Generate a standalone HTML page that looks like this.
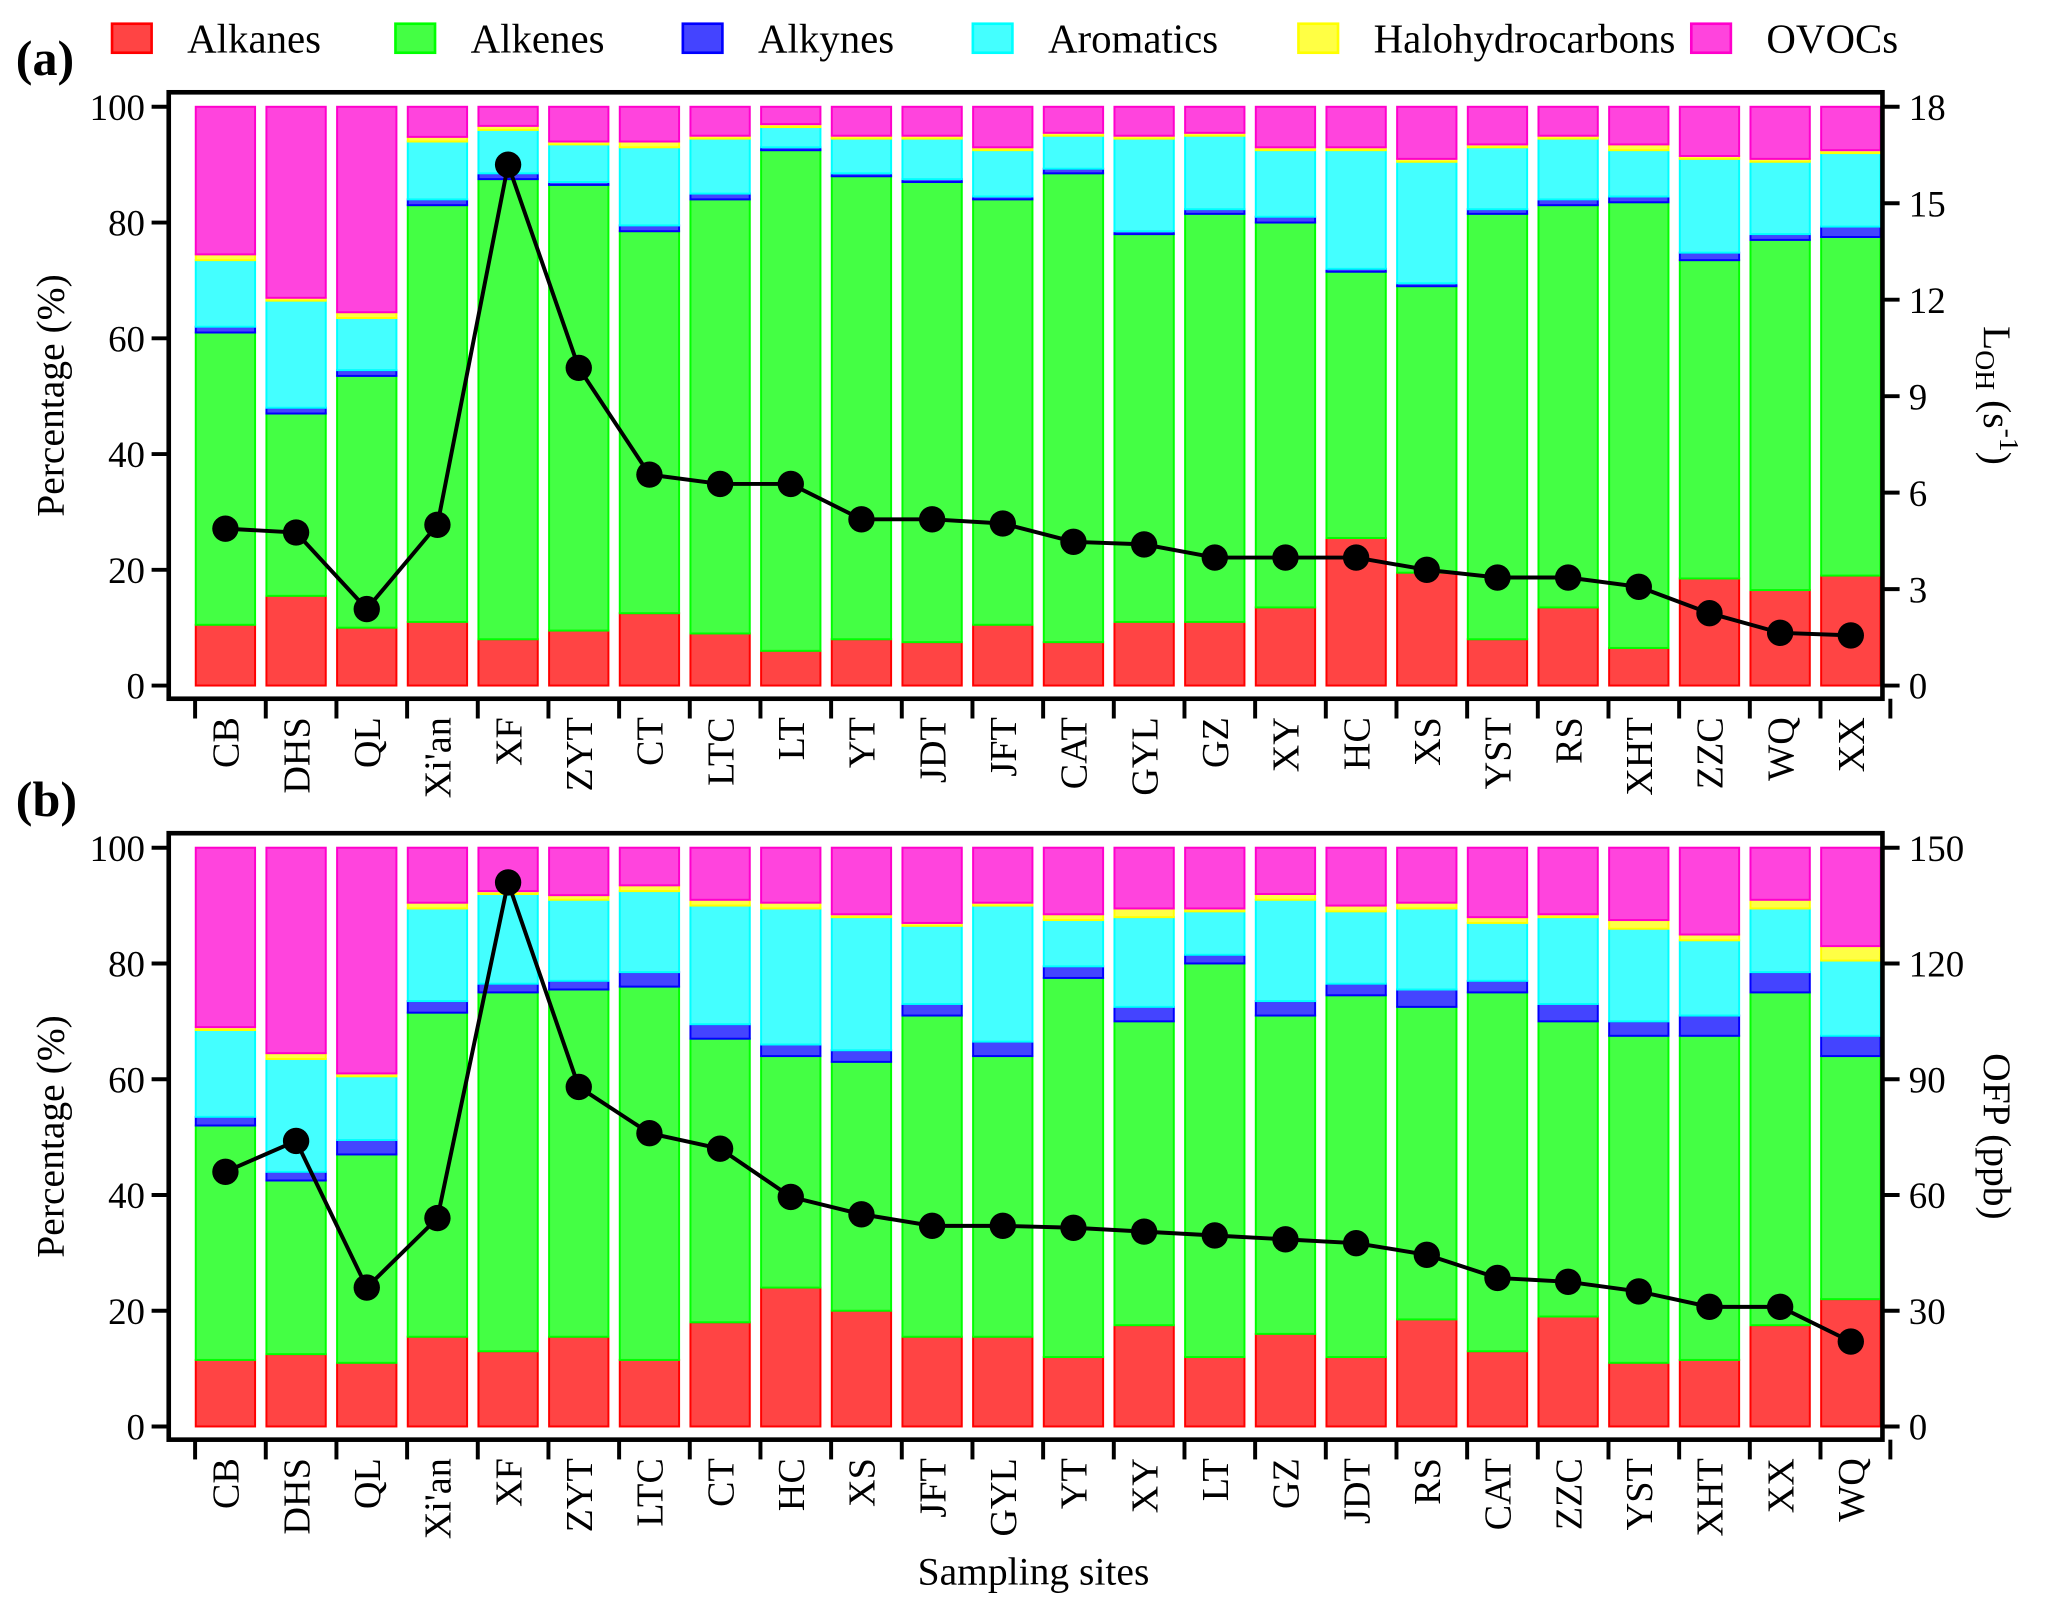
<!DOCTYPE html>
<html><head><meta charset="utf-8"><style>html,body{margin:0;padding:0;background:#fff}svg{display:block}svg text{font-family:"Liberation Serif","DejaVu Serif",serif}</style></head>
<body>
<svg id="chart" xmlns="http://www.w3.org/2000/svg" width="2067" height="1615" viewBox="0 0 1568 1225" preserveAspectRatio="none" style="font-family:'Liberation Serif',serif">
<g id="legend"></g>
<g id="pa"></g>
<g id="pb"></g>
<text x="784" y="1202" font-size="30" text-anchor="middle">Sampling sites</text>
</svg>
<script>
const categoriesA = ["CB","DHS","QL","Xi'an","XF","ZYT","CT","LTC","LT","YT","JDT","JFT","CAT","GYL","GZ","XY","HC","XS","YST","RS","XHT","ZZC","WQ","XX"];
const alkanesA = [10.5,15.5,10,11,8,9.5,12.5,9,6,8,7.5,10.5,7.5,11,11,13.5,25.5,19.5,8,13.5,6.5,18.5,16.5,19];
const alkenesA = [61,47,53.5,83,87.5,86.5,78.5,84,92.5,88,87,84,88.5,78,81.5,80,71.5,69,81.5,83,83.5,73.5,77,77.5];
const alkynesA = [62,48,54.5,84,88.5,87,79.5,85,93,88.5,87.5,84.5,89.3,78.5,82.3,81,72,69.5,82.3,84,84.5,74.8,78,79.3];
const aromaticsA = [73.5,66.5,63.5,94,96,93.5,93,94.5,96.5,94.5,94.5,92.5,95,94.5,95,92.5,92.5,90.5,93,94.5,92.5,91,90.5,92];
const haloA = [74.5,67,64.5,94.8,96.7,94,94,95,97,95,95,93,95.5,95,95.5,93,93,91,93.5,95,93.5,91.5,91,92.5];
const lohValues = [4.88,4.76,2.38,5.0,16.2,9.88,6.56,6.27,6.27,5.17,5.17,5.04,4.47,4.39,3.98,3.98,3.98,3.6,3.36,3.36,3.07,2.25,1.64,1.56];
const rightTicksA = [0,3,6,9,12,15,18];

const categoriesB = ["CB","DHS","QL","Xi'an","XF","ZYT","LTC","CT","HC","XS","JFT","GYL","YT","XY","LT","GZ","JDT","RS","CAT","ZZC","YST","XHT","XX","WQ"];
const alkanesB = [11.5,12.5,11,15.5,13,15.5,11.5,18,24,20,15.5,15.5,12,17.5,12,16,12,18.5,13,19,11,11.5,17.5,22];
const alkenesB = [52,42.5,47,71.5,75,75.5,76,67,64,63,71,64,77.5,70,80,71,74.5,72.5,75,70,67.5,67.5,75,64];
const alkynesB = [53.5,44,49.5,73.5,76.5,77,78.5,69.5,66,65,73,66.5,79.5,72.5,81.5,73.5,76.5,75.5,77,73,70,71,78.5,67.5];
const aromaticsB = [68.5,63.5,60.5,89.5,92,91,92.5,90,89.5,88,86.5,90,87.5,88,89,91,89,89.5,87,88,86,84,89.5,80.5];
const haloB = [69,64.5,61,90.5,92.5,91.8,93.5,91,90.5,88.5,87,90.5,88.5,89.5,89.5,92,90,90.5,88,88.5,87.5,85,91,83];
const ofpValues = [66,74,36,54,141,88,76,72,59.5,55,52,52,51.5,50.5,49.5,48.5,47.5,44.5,38.5,37.5,35,31,31,22];
const rightTicksB = [0,30,60,90,120,150];
const leftTicks = [0,20,40,60,80,100];
const legendLabels = ["Alkanes","Alkenes","Alkynes","Aromatics","Halohydrocarbons","OVOCs"];

const fills = ["#ff4444","#44ff44","#4444ff","#44ffff","#ffff44","#ff44dd"];
const strokes = ["#ff0000","#00ff00","#0000ff","#00ffff","#ffff00","#ff00cc"];
const NS = "http://www.w3.org/2000/svg";
function mk(tag, attrs, parent){const e=document.createElementNS(NS,tag);for(const k in attrs)e.setAttribute(k,attrs[k]);parent.appendChild(e);return e;}

const lg = document.getElementById('legend');
const lgX = [85,300,518,738,985,1283];
legendLabels.forEach((l,i)=>{
  const r = mk('rect',{x:lgX[i],y:18,width:30,height:22,fill:fills[i],stroke:strokes[i],'stroke-width':2},lg);
  
  
  const t = mk('text',{x:lgX[i]+57,y:40,'font-size':31},lg);
  t.textContent = l;
  
  
});

function panel(g, top, letter, cats, series, line, rTicks, rMax, rightTitle){
  const L=128,R=1428,fT=top,fB=top+460,y0=top+450,y100=top+11;
  const yL = v => y0 - (v/100)*(y0-y100);
  const yR = v => y0 - (v/rMax)*(y0-y100);
  const x0=171, step=(1404-171)/23, bw=45;
  const xC = i => x0 + i*step;
  const lab = mk('text',{x:12,y:top-13,'font-size':38,'font-weight':'bold'},g);
  lab.textContent = '('+letter+')';
  
  
  cats.forEach((c,i)=>{
    let prev=0;
    const tops=[...series.map(s=>s[i]),100];
    tops.forEach((tv,k)=>{
      const r=mk('rect',{x:xC(i)-bw/2,y:yL(tv),width:bw,height:Math.max(0,yL(prev)-yL(tv)),fill:fills[k],stroke:strokes[k],'stroke-width':1.5},g);
      
      
      prev=tv;
    });
    const tk=mk('line',{x1:xC(i)-23,x2:xC(i)-23,y1:fB,y2:fB+15,stroke:'#000','stroke-width':3},g);
    
    
    const t=mk('text',{x:0,y:0,'font-size':29,'text-anchor':'end',transform:`translate(${xC(i)+10},${fB+14}) rotate(-90)`},g);
    t.textContent=c;
    
    
  });
  const tkEnd=mk('line',{x1:xC(23)+30,x2:xC(23)+30,y1:fB,y2:fB+15,stroke:'#000','stroke-width':3},g);
  
  
  const pts=line.map((v,i)=>xC(i)+','+yR(v)).join(' ');
  const pl=mk('polyline',{points:pts,fill:'none',stroke:'#000','stroke-width':3},g);
  
  
  line.forEach((v,i)=>{
    const c=mk('circle',{cx:xC(i),cy:yR(v),r:10,fill:'#000'},g);
    
    
  });
  const fr=mk('rect',{x:L,y:fT,width:R-L,height:fB-fT,fill:'none',stroke:'#000','stroke-width':3.5},g);
  
  
  leftTicks.forEach(v=>{
    const l=mk('line',{x1:L-13,x2:L,y1:yL(v),y2:yL(v),stroke:'#000','stroke-width':3},g);
    
    
    const t=mk('text',{x:L-18,y:yL(v)+10,'font-size':28,'text-anchor':'end'},g);
    t.textContent=v;
    
    
  });
  rTicks.forEach(v=>{
    const l=mk('line',{x1:R,x2:R+13,y1:yR(v),y2:yR(v),stroke:'#000','stroke-width':3},g);
    
    
    const t=mk('text',{x:R+20,y:yR(v)+10,'font-size':28},g);
    t.textContent=v;
    
    
  });
  const yt=mk('text',{x:0,y:0,'font-size':30,'text-anchor':'middle',transform:`translate(48,${(fT+fB)/2}) rotate(-90)`},g);
  yt.textContent='Percentage (%)';
  
  
  const rt=mk('text',{x:0,y:0,'font-size':30,'text-anchor':'middle',transform:`translate(1505,${(fT+fB)/2}) rotate(90)`},g);
  rt.innerHTML=rightTitle;
  
  
}
panel(document.getElementById('pa'),70,'a',categoriesA,[alkanesA,alkenesA,alkynesA,aromaticsA,haloA],lohValues,rightTicksA,18,'L<tspan font-size="21" dy="6">OH</tspan><tspan dy="-6"> (s</tspan><tspan font-size="21" dy="-12">-1</tspan><tspan dy="12">)</tspan>');
panel(document.getElementById('pb'),632,'b',categoriesB,[alkanesB,alkenesB,alkynesB,aromaticsB,haloB],ofpValues,rightTicksB,150,'OFP (ppb)');
</script>
</body></html>
